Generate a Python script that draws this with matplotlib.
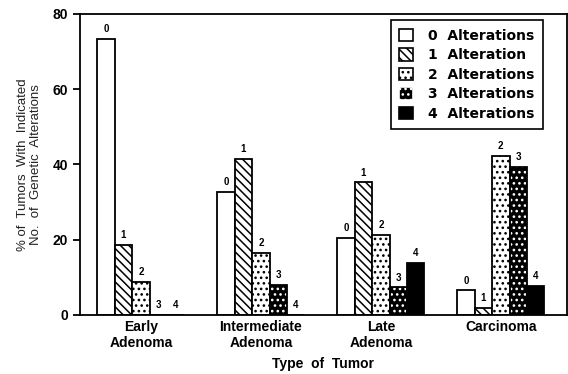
import matplotlib.pyplot as plt
from matplotlib.patches import Patch
import numpy as np

# Data
categories = ["Early\nAdenoma", "Intermediate\nAdenoma", "Late\nAdenoma", "Carcinoma"]
series_labels = ["0  Alterations", "1  Alteration", "2  Alterations", "3  Alterations", "4  Alterations"]
alt0 = [73.4, 32.7, 20.5, 6.6]
alt1 = [18.6, 41.5, 35.3, 1.9]
alt2 = [8.8, 16.5, 21.3, 42.3]
alt3 = [0.0, 8.0, 7.4, 39.4]
alt4 = [0.0, 0.0, 13.8, 7.7]
series = [alt0, alt1, alt2, alt3, alt4]

plt.rcParams["font.family"] = ["Liberation Sans", "DejaVu Sans"]
plt.rcParams["hatch.linewidth"] = 1.1

# face, hatch colour, hatch pattern
styles = [
    ("white", "black", None),
    ("white", "black", "\\\\\\\\"),
    ("white", "black", "..."),
    ("black", "white", "..."),
    ("black", "black", None),
]

fig = plt.figure(figsize=(5.68, 3.74), dpi=100)
ax = fig.add_axes([0.141, 0.158, 0.857, 0.805])

x = np.arange(len(categories))
w = 0.145
for i, vals in enumerate(series):
    face, hcol, hatch = styles[i]
    pos = x + (i - 2) * w
    ax.bar(pos, vals, w, color=face, edgecolor=hcol, hatch=hatch, linewidth=0)
    ax.bar(pos, vals, w, fill=False, edgecolor="black", linewidth=1.3)
    for px, v in zip(pos, vals):
        ax.text(px, v + 1.2, str(i), ha="center", va="bottom",
                fontsize=7, fontweight="bold")

ax.set_xlim(-0.507, 3.55)
ax.set_ylim(0, 80)
ax.set_yticks([0, 20, 40, 60, 80])
ax.set_xticks(x)
ax.set_xticklabels(categories, fontsize=10, fontweight="bold", linespacing=1.15)
ax.tick_params(axis="x", length=0, pad=4)
ax.tick_params(axis="y", labelsize=10, width=1.3, length=5)
for lab in ax.get_yticklabels():
    lab.set_fontweight("bold")
for s in ax.spines.values():
    s.set_linewidth(1.3)

ax.set_xlabel("Type  of  Tumor", fontsize=10, fontweight="bold", labelpad=5)
ax.set_ylabel("% of  Tumors  With  Indicated\nNo.  of  Genetic  Alterations",
              fontsize=9.5, linespacing=1.05, labelpad=8, color="#222222")

handles = []
for face, hcol, hatch in styles:
    handles.append(Patch(facecolor=face, edgecolor=hcol if face == "black" else "black",
                         hatch=hatch, linewidth=1.2))
leg = ax.legend(handles, series_labels, loc="upper right", bbox_to_anchor=(0.951, 0.978),
                fancybox=False, edgecolor="black", framealpha=1,
                prop={"family": "DejaVu Sans", "weight": "bold", "size": 10},
                handlelength=1.0, handleheight=1.0, handletextpad=1.1,
                labelspacing=0.4, borderpad=0.6, borderaxespad=0.0)
leg.get_frame().set_linewidth(1.2)

fig.savefig("out.png", dpi=100)
